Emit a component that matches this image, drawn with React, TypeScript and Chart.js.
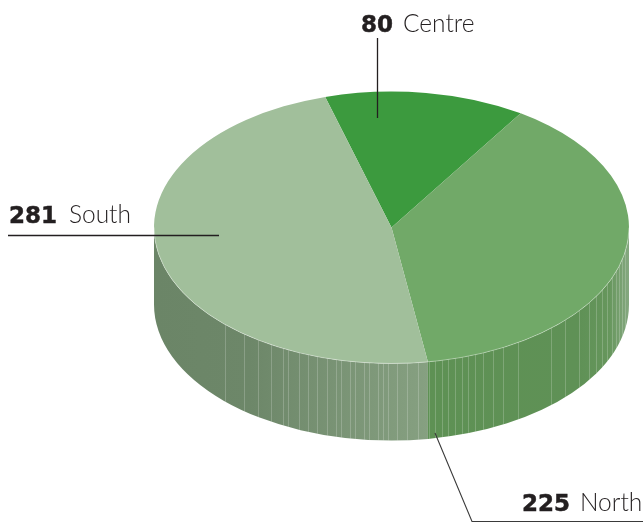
import React, { useEffect, useRef } from "react";
import { Chart, registerables } from "chart.js";

Chart.register(...registerables);

const categories = ["Centre", "North", "South"];
const values = [80, 225, 281];

const topColours = ["#3c9a3e", "#71a968", "#a1bf9b"];
const WIDTH = 643;
const HEIGHT = 525;
const CENTRE_Y = 227.5;
const RADIUS = 237.5;
const SQUASH = 136 / 237.5;
const DEPTH = 77;

// Facet seams on the rim of the disc (page x), purely decorative.
const seams = [225, 244, 258, 271, 283, 288, 299, 308, 317, 327, 336, 341, 350, 355, 364, 369, 378, 383, 388, 397, 407, 418,
  429, 435, 442, 448, 455, 462, 468, 475, 483, 493, 503, 518, 551, 565, 579, 589, 596, 602, 607, 612, 616, 619, 622, 625];

const labelSetups = [
  { line: [[377.5, 38], [377.5, 118]], numberX: 361, textX: 403, baseline: 32, stroke: "#231f20", width: 1.3 },
  { line: [[435, 433], [472, 521.5], [643, 521.5]], numberX: 522, textX: 580, baseline: 511, stroke: "#3a3a3a", width: 1.1 },
  { line: [[8, 235.5], [219, 235.5]], numberX: 9, textX: 69, baseline: 223, stroke: "#231f20", width: 1.3 },
];

const wallStops: [number, string][][] = [
  [],
  [[0, "#5e9154"], [0.75, "#5f9156"], [0.9, "#66965c"], [1, "#85a880"]],
  [[0, "#6b8567"], [0.35, "#6d8769"], [1, "#86a081"]],
];

const pieDisc = {
  id: "pieDisc",
  beforeDatasetsDraw(chart: any) {
    const { ctx } = chart;
    const arcs = chart.getDatasetMeta(0).data;
    arcs.forEach((arc: any, i: number) => {
      const cx = arc.x;
      const r = arc.outerRadius;
      const ry = r * SQUASH;
      // Keep only the front half of the slice: angles between 0 and PI.
      const s0 = Math.atan2(Math.sin(arc.startAngle), Math.cos(arc.startAngle));
      const sweep = arc.endAngle - arc.startAngle;
      const a0 = Math.max(s0, 0);
      const a1 = Math.min(s0 + sweep, Math.PI);
      if (a1 <= a0) return;
      const path = () => {
        ctx.beginPath();
        ctx.ellipse(cx, CENTRE_Y, r, ry, 0, a0, a1);
        ctx.lineTo(cx + r * Math.cos(a1), CENTRE_Y + ry * Math.sin(a1) + DEPTH);
        ctx.ellipse(cx, CENTRE_Y + DEPTH, r, ry, 0, a1, a0, true);
        ctx.closePath();
      };
      const x0 = cx + r * Math.cos(a1);
      const x1 = cx + r * Math.cos(a0);
      const g = ctx.createLinearGradient(x0, 0, x1, 0);
      wallStops[i].forEach(([p, c]) => g.addColorStop(p, c));
      ctx.save();
      path();
      ctx.fillStyle = g;
      ctx.fill();
      ctx.clip();
      ctx.strokeStyle = "rgba(255,255,255,0.2)";
      ctx.lineWidth = 1;
      seams.forEach((x) => {
        ctx.beginPath();
        ctx.moveTo(x + 0.5, CENTRE_Y);
        ctx.lineTo(x + 0.5, HEIGHT);
        ctx.stroke();
      });
      ctx.restore();
    });
    // Flatten the round pie into the disc's top face.
    const cy = arcs[0].y;
    ctx.save();
    ctx.translate(0, CENTRE_Y);
    ctx.scale(1, SQUASH);
    ctx.translate(0, -cy);
  },
  afterDatasetsDraw(chart: any) {
    const { ctx } = chart;
    ctx.restore();
    const arc = chart.getDatasetMeta(0).data[0];
    const r = arc.outerRadius;
    ctx.save();
    ctx.beginPath();
    ctx.ellipse(arc.x, CENTRE_Y, r, r * SQUASH, 0, 0, Math.PI);
    ctx.strokeStyle = "rgba(255,255,255,0.35)";
    ctx.lineWidth = 1;
    ctx.stroke();
    ctx.restore();

    labelSetups.forEach((s, i) => {
      ctx.save();
      ctx.strokeStyle = s.stroke;
      ctx.lineWidth = s.width;
      ctx.beginPath();
      s.line.forEach(([x, y], k) => (k ? ctx.lineTo(x, y) : ctx.moveTo(x, y)));
      ctx.stroke();
      ctx.textBaseline = "alphabetic";
      ctx.textAlign = "left";
      ctx.fillStyle = "#231f20";
      ctx.strokeStyle = "#231f20";
      ctx.lineWidth = 0.5;
      ctx.font = "bold 23px 'DejaVu Sans'";
      ctx.fillText(String(values[i]), s.numberX, s.baseline);
      ctx.strokeText(String(values[i]), s.numberX, s.baseline);
      ctx.font = "300 24.5px Lato";
      ctx.fillText(categories[i], s.textX, s.baseline);
      ctx.restore();
    });
  },
};

export default function App() {
  const ref = useRef<HTMLCanvasElement>(null);
  useEffect(() => {
    document.body.style.margin = "0";
    const chart = new Chart(ref.current!, {
      type: "pie",
      data: {
        labels: categories,
        datasets: [{ data: values, backgroundColor: topColours, borderWidth: 0, clip: false } as any],
      },
      options: {
        responsive: false,
        animation: false,
        rotation: -16.2,
        radius: RADIUS,
        events: [],
        layout: { padding: { left: 140, right: 0, top: 0, bottom: 0 } },
        plugins: { legend: { display: false }, tooltip: { enabled: false } },
      } as any,
      plugins: [pieDisc],
    });
    return () => chart.destroy();
  }, []);
  return <canvas ref={ref} width={WIDTH} height={HEIGHT} style={{ display: "block" }} />;
}
